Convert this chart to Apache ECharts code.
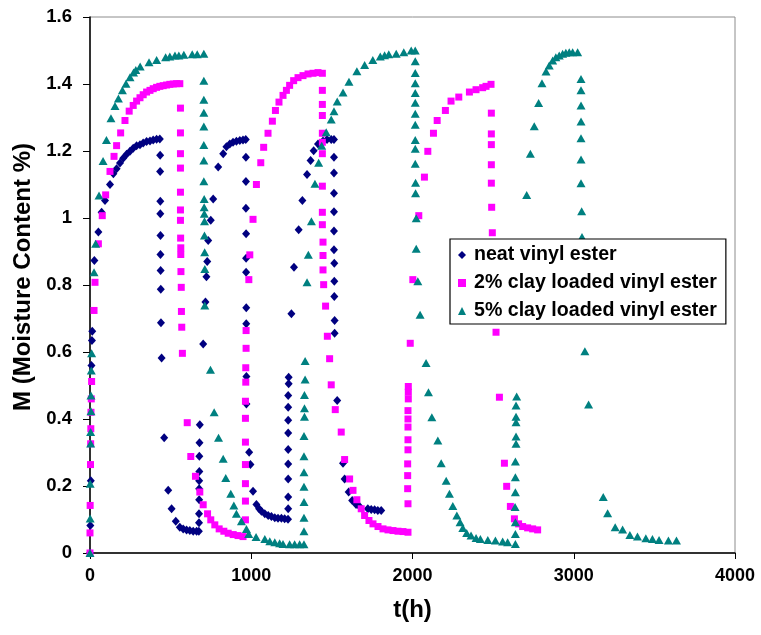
<!DOCTYPE html>
<html>
<head>
<meta charset="utf-8">
<script src="https://cdn.jsdelivr.net/npm/echarts@6/dist/echarts.min.js"></script>
<style>html,body{margin:0;padding:0;background:#fff}#c{width:761px;height:635px}</style>
</head>
<body>
<div id="c"></div>
<script>
// Values: [t (h), M (%)]
const seriesNames = ['neat vinyl ester', '2% clay loaded vinyl ester', '5% clay loaded vinyl ester'];
const xTicks = [0, 1000, 2000, 3000, 4000];
const yTicks = [0, 0.2, 0.4, 0.6, 0.8, 1, 1.2, 1.4, 1.6];

const neatData = [
[0,0],[2,0.082],[5,0.216],[9,0.56],[12,0.634],[14,0.662],[27,0.873],[52,0.958],[72,1.017],[93,1.052],[124,1.1],[145,1.132],[165,1.147],[186,1.164],[206,1.178],[227,1.19],[248,1.199],[268,1.208],[289,1.216],[310,1.219],[330,1.224],[351,1.228],[372,1.23],[392,1.233],[413,1.235],[433,1.236],
[435,1.187],[435,1.139],[436,1.05],[436,1.013],[437,0.948],[437,0.891],[438,0.843],[439,0.787],[440,0.687],[444,0.582],[460,0.344],[485,0.187],[506,0.132],[532,0.095],[557,0.077],[578,0.072],[599,0.069],[619,0.067],[640,0.065],[661,0.065],[675,0.065],
[676,0.09],[676,0.117],[677,0.159],[677,0.192],[677,0.216],[678,0.243],[678,0.289],[679,0.329],[681,0.383],[702,0.624],[716,0.749],[722,0.825],[727,0.87],[733,0.933],[749,0.993],[764,1.057],[795,1.152],[826,1.192],[846,1.213],[867,1.221],[887,1.226],[908,1.229],[929,1.231],[949,1.233],[966,1.234],
[967,1.181],[967,1.109],[967,1.029],[968,0.953],[968,0.88],[968,0.838],[969,0.732],[969,0.684],[970,0.527],[970,0.445],[987,0.301],[995,0.264],[1011,0.184],[1032,0.145],[1049,0.132],[1063,0.125],[1084,0.117],[1105,0.112],[1125,0.109],[1146,0.105],[1166,0.104],[1187,0.104],[1207,0.102],[1228,0.101],
[1229,0.132],[1229,0.167],[1229,0.221],[1229,0.266],[1229,0.309],[1229,0.358],[1229,0.396],[1229,0.435],[1229,0.47],[1232,0.505],[1232,0.525],[1249,0.714],[1265,0.853],[1294,0.965],[1317,1.052],[1346,1.13],[1368,1.172],[1387,1.201],[1414,1.221],[1445,1.23],[1470,1.234],[1496,1.234],[1513,1.234],
[1513,1.181],[1513,1.134],[1513,1.074],[1513,1.019],[1513,0.961],[1513,0.905],[1515,0.865],[1515,0.811],[1515,0.766],[1517,0.694],[1517,0.656],[1533,0.455],[1569,0.268],[1579,0.221],[1604,0.182],[1626,0.157],[1650,0.145],[1672,0.139],[1723,0.132],[1744,0.13],[1765,0.129],[1785,0.127],[1806,0.127]
];

const clay2Data = [
[0,0],[0,0.06],[1,0.142],[3,0.264],[4,0.326],[5,0.371],[6,0.42],[8,0.46],[10,0.512],[25,0.724],[31,0.808],[52,0.923],[76,1.007],[97,1.069],[124,1.139],[149,1.184],[165,1.216],[190,1.254],[217,1.291],[243,1.319],[268,1.336],[289,1.349],[310,1.359],[330,1.368],[351,1.376],[372,1.381],[392,1.386],[413,1.39],[433,1.393],[454,1.395],[475,1.397],[495,1.399],[516,1.4],[537,1.401],[557,1.401],
[561,1.328],[561,1.254],[561,1.192],[561,1.149],[561,1.077],[561,1.024],[561,0.993],[562,0.94],[563,0.911],[563,0.891],[564,0.84],[566,0.793],[567,0.721],[569,0.674],[573,0.596],[603,0.389],[625,0.288],[654,0.229],[681,0.182],[702,0.144],[729,0.117],[749,0.099],[774,0.084],[801,0.072],[830,0.065],[857,0.059],[888,0.055],[918,0.052],[949,0.049],
[964,0.099],[964,0.155],[964,0.207],[964,0.264],[964,0.331],[964,0.402],[964,0.453],[966,0.51],[966,0.553],[968,0.611],[968,0.664],[985,0.816],[991,0.89],[1011,0.996],[1032,1.1],[1059,1.165],[1077,1.211],[1104,1.253],[1131,1.289],[1150,1.321],[1172,1.346],[1197,1.366],[1218,1.381],[1238,1.396],[1263,1.41],[1290,1.419],[1321,1.425],[1352,1.43],[1383,1.432],[1414,1.434],[1441,1.432],
[1441,1.381],[1441,1.339],[1441,1.306],[1441,1.253],[1441,1.226],[1441,1.192],[1441,1.095],[1441,1.017],[1441,0.98],[1445,0.928],[1445,0.888],[1445,0.845],[1449,0.801],[1461,0.737],[1472,0.647],[1486,0.58],[1496,0.502],[1521,0.428],[1558,0.361],[1579,0.279],[1610,0.221],[1631,0.187],[1655,0.159],[1682,0.132],[1703,0.112],[1730,0.097],[1755,0.087],[1786,0.079],[1817,0.072],[1848,0.069],[1879,0.067],[1910,0.065],[1941,0.064],[1972,0.062],
[1972,0.147],[1970,0.192],[1970,0.231],[1970,0.266],[1972,0.308],[1972,0.338],[1972,0.376],[1972,0.4],[1972,0.425],[1974,0.46],[1974,0.48],[1974,0.497],[1986,0.626],[2002,0.816],[2039,1.007],[2074,1.122],[2095,1.199],[2130,1.253],[2153,1.291],[2204,1.321],[2239,1.349],[2287,1.361],[2353,1.376],[2394,1.383],[2435,1.389],[2456,1.393],[2487,1.399],
[2489,1.313],[2489,1.251],[2489,1.219],[2489,1.159],[2489,1.104],[2491,1.032],[2495,0.956],[2518,0.659],[2539,0.465],[2570,0.268],[2584,0.199],[2607,0.139],[2632,0.102],[2658,0.087],[2683,0.079],[2714,0.075],[2745,0.072],[2776,0.069]
];

const clay5Data = [
[0,0],[1,0.103],[1,0.207],[4,0.327],[4,0.361],[6,0.423],[6,0.47],[8,0.545],[10,0.596],[25,0.838],[35,0.923],[56,1.067],[81,1.17],[102,1.233],[130,1.298],[155,1.334],[176,1.357],[201,1.381],[223,1.401],[248,1.42],[270,1.434],[284,1.442],[311,1.452],[366,1.465],[413,1.472],[469,1.48],[495,1.482],[527,1.485],[551,1.485],[582,1.487],[634,1.489],[665,1.489],[706,1.49],
[706,1.41],[706,1.353],[706,1.314],[706,1.273],[706,1.218],[706,1.172],[706,1.11],[708,1.057],[708,1.032],[709,1.013],[710,0.99],[710,0.948],[711,0.898],[712,0.848],[712,0.739],[747,0.547],[770,0.42],[797,0.344],[826,0.281],[842,0.224],[873,0.177],[892,0.142],[908,0.117],[939,0.095],[970,0.072],[984,0.057],[1030,0.048],[1084,0.042],[1115,0.035],[1146,0.032],[1176,0.029],[1197,0.027],[1238,0.026],[1269,0.026],[1300,0.026],[1327,0.026],
[1327,0.065],[1327,0.105],[1327,0.152],[1327,0.198],[1327,0.241],[1327,0.289],[1327,0.349],[1330,0.407],[1330,0.432],[1330,0.472],[1334,0.518],[1334,0.573],[1346,0.808],[1354,0.89],[1373,0.99],[1395,1.102],[1418,1.165],[1437,1.216],[1465,1.256],[1496,1.294],[1513,1.319],[1533,1.348],[1569,1.375],[1606,1.407],[1655,1.438],[1703,1.457],[1754,1.472],[1800,1.482],[1827,1.486],[1853,1.489],[1899,1.49],[1946,1.495],[1992,1.5],[2017,1.5],
[2017,1.468],[2017,1.433],[2017,1.402],[2017,1.373],[2017,1.344],[2017,1.311],[2017,1.278],[2017,1.233],[2017,1.207],[2017,1.162],[2019,1.105],[2019,1.074],[2023,0.999],[2023,0.908],[2033,0.811],[2047,0.711],[2084,0.567],[2099,0.48],[2120,0.405],[2157,0.336],[2178,0.268],[2209,0.216],[2229,0.177],[2250,0.14],[2275,0.112],[2295,0.092],[2312,0.075],[2336,0.06],[2363,0.052],[2394,0.045],[2421,0.042],[2467,0.039],[2514,0.037],[2559,0.034],[2590,0.032],[2638,0.027],
[2638,0.057],[2638,0.092],[2636,0.137],[2638,0.181],[2638,0.226],[2638,0.273],[2642,0.326],[2642,0.348],[2642,0.39],[2642,0.407],[2642,0.44],[2646,0.467],[2708,1.069],[2731,1.192],[2755,1.274],[2782,1.343],[2803,1.402],[2828,1.437],[2848,1.455],[2869,1.47],[2889,1.48],[2910,1.485],[2931,1.49],[2951,1.493],[2972,1.495],[2993,1.495],[3024,1.495],
[3045,1.415],[3045,1.381],[3045,1.336],[3045,1.288],[3045,1.238],[3045,1.175],[3045,1.104],[3049,1.02],[3051,0.943],[3069,0.602],[3092,0.443],[3183,0.167],[3210,0.119],[3257,0.077],[3303,0.07],[3348,0.054],[3395,0.049],[3447,0.044],[3488,0.042],[3529,0.039],[3587,0.037],[3637,0.037]
];

const FONT = "'Liberation Sans', Arial, Helvetica, sans-serif";
const chart = echarts.init(document.getElementById('c'), null, {renderer: 'canvas'});
chart.setOption({
  backgroundColor: '#ffffff',
  animation: false,
  grid: {left: 90, right: 26, top: 17, bottom: 82, show: true, borderColor: '#8c8c8c', borderWidth: 1, backgroundColor: 'transparent'},
  legend: {
    orient: 'vertical', left: 450, top: 239,
    data: [
      {name: seriesNames[0], icon: 'diamond'},
      {name: seriesNames[1], icon: 'rect'},
      {name: seriesNames[2], icon: 'triangle'}
    ],
    itemWidth: 8, itemHeight: 8, itemGap: 8,
    padding: [6, 9, 3, 8],
    borderColor: '#000', borderWidth: 1.2, backgroundColor: '#fff',
    textStyle: {fontFamily: FONT, fontWeight: 'bold', fontSize: 19.6, color: '#000', lineHeight: 20, padding: [0, 0, 0, 3]}
  },
  xAxis: {
    type: 'value', min: xTicks[0], max: xTicks[xTicks.length - 1], interval: 1000,
    name: 't(h)', nameLocation: 'middle', nameGap: 45,
    nameTextStyle: {fontFamily: FONT, fontWeight: 'bold', fontSize: 24, color: '#000'},
    axisLine: {show: true, onZero: false, lineStyle: {color: '#000', width: 1.5}},
    axisTick: {show: true, inside: false, length: 6, lineStyle: {color: '#000', width: 1}},
    axisLabel: {margin: 14, fontFamily: FONT, fontWeight: 'bold', fontSize: 18, color: '#000', formatter: v => String(v)},
    splitLine: {show: false}
  },
  yAxis: {
    type: 'value', min: yTicks[0], max: yTicks[yTicks.length - 1], interval: 0.2,
    name: 'M (Moisture Content %)', nameLocation: 'middle', nameGap: 54, nameRotate: 90,
    nameTextStyle: {fontFamily: FONT, fontWeight: 'bold', fontSize: 24, color: '#000', padding: [0, 0, 0, 16]},
    axisLine: {show: true, onZero: false, lineStyle: {color: '#000', width: 1.5}},
    axisTick: {show: true, inside: false, length: 7, lineStyle: {color: '#000', width: 1}},
    axisLabel: {margin: 18, fontFamily: FONT, fontWeight: 'bold', fontSize: 18.5, color: '#000', formatter: v => String(Math.round(v * 10) / 10)},
    splitLine: {show: false}
  },
  series: [
    {name: seriesNames[0], type: 'scatter', data: neatData, symbol: 'diamond', symbolSize: [8, 9], itemStyle: {color: '#000080', opacity: 1}},
    {name: seriesNames[1], type: 'scatter', data: clay2Data, symbol: 'rect', symbolSize: [7, 7], itemStyle: {color: '#ff00ff', opacity: 1}},
    {name: seriesNames[2], type: 'scatter', data: clay5Data, symbol: 'triangle', symbolSize: [9, 8], itemStyle: {color: '#008080', opacity: 1}}
  ]
});
</script>
</body>
</html>
